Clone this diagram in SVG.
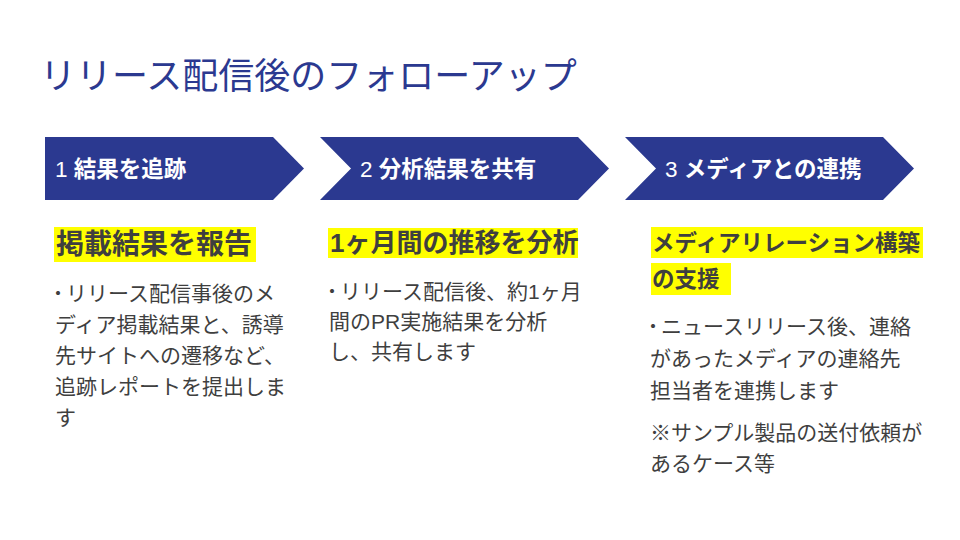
<svg xmlns="http://www.w3.org/2000/svg" width="960" height="540" viewBox="0 0 960 540">
<style>
text{font-family:"Liberation Sans","Noto Sans CJK JP",sans-serif}
.title{font-size:36px;fill:#2b3990}
.step{fill:#2b3990}
.lbl{font-size:22.5px;fill:#ffffff;font-weight:700}
.num{font-weight:400}
.hl{fill:#ffff00}
.hd{font-weight:700;fill:#3f3f3f}
.body{font-size:21px;fill:#3f3f3f}
.dot{font-size:16px;font-weight:700}
</style>
<rect width="960" height="540" fill="#ffffff"/>
<text class="title" x="40" y="89">リリース配信後のフォローアップ</text>
<g id="step1">
<polygon class="step" points="45,137 273,137 304,168.5 273,200 45,200"/>
<text class="lbl" x="55" y="177"><tspan class="num">1 </tspan>結果を追跡</text>
</g>
<g id="step2">
<polygon class="step" points="320,137 578,137 609,168.5 578,200 320,200 351,168.5"/>
<text class="lbl" x="360" y="177"><tspan class="num">2 </tspan>分析結果を共有</text>
</g>
<g id="step3">
<polygon class="step" points="625,137 883,137 914,168.5 883,200 625,200 656,168.5"/>
<text class="lbl" x="665" y="177"><tspan class="num">3 </tspan>メディアとの連携</text>
</g>
<g id="detail1">
<rect class="hl" x="54" y="227" width="202" height="35"/>
<text class="hd" x="56" y="254" font-size="28">掲載結果を報告</text>
<text class="body">
<tspan class="dot" x="50" y="299">・</tspan><tspan y="301">リリース配信事後のメ</tspan>
<tspan x="55" y="332">ディア掲載結果と、誘導</tspan>
<tspan x="55" y="363">先サイトへの遷移など、</tspan>
<tspan x="55" y="394">追跡レポートを提出しま</tspan>
<tspan x="55" y="425">す</tspan>
</text>
</g>
<g id="detail2">
<rect class="hl" x="328" y="228" width="250" height="30"/>
<text class="hd" x="330" y="252" font-size="26">1ヶ月間の推移を分析</text>
<text class="body">
<tspan class="dot" x="324" y="297">・</tspan><tspan y="299">リリース配信後、約1ヶ月</tspan>
<tspan x="329" y="329">間のPR実施結果を分析</tspan>
<tspan x="329" y="359">し、共有します</tspan>
</text>
</g>
<g id="detail3">
<rect class="hl" x="651" y="227" width="272" height="31"/>
<rect class="hl" x="651" y="263" width="80" height="32"/>
<text class="hd" font-size="22.5">
<tspan x="652" y="251">メディアリレーション構築</tspan>
<tspan x="652" y="287">の支援</tspan>
</text>
<text class="body">
<tspan class="dot" x="645" y="332">・</tspan><tspan y="334">ニュースリリース後、連絡</tspan>
<tspan x="650" y="366">があったメディアの連絡先</tspan>
<tspan x="650" y="398">担当者を連携します</tspan>
<tspan x="650" y="440">※サンプル製品の送付依頼が</tspan>
<tspan x="650" y="471">あるケース等</tspan>
</text>
</g>
</svg>
